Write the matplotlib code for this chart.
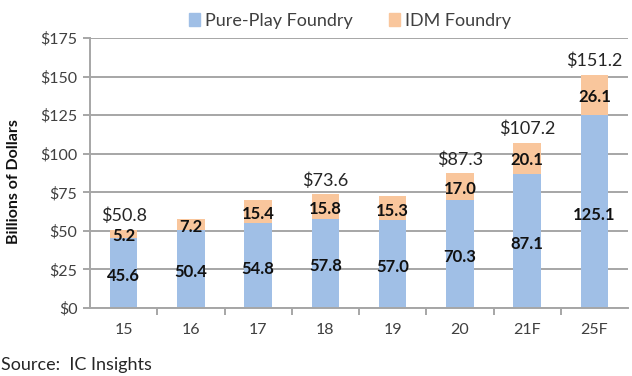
import numpy as np
import matplotlib.pyplot as plt
from matplotlib.patches import Patch

years = ["15", "16", "17", "18", "19", "20", "21F", "25F"]
pure_play = [45.6, 50.4, 54.8, 57.8, 57.0, 70.3, 87.1, 125.1]
idm = [5.2, 7.2, 15.4, 15.8, 15.3, 17.0, 20.1, 26.1]
totals = [50.8, None, None, 73.6, None, 87.3, 107.2, 151.2]

blue = "#a0bfe6"
orange = "#f9c69c"
grid_c = "#a6a6a6"
txt = "#404040"

plt.rcParams['font.family'] = ['Lato', 'DejaVu Sans']

fig = plt.figure(figsize=(6.32, 3.76), dpi=100)
ax = fig.add_axes([90/632, (376-308)/376, 538/632, 270/376])

x = np.arange(len(years))
w = 0.41
ax.bar(x, pure_play, w, color=blue, zorder=2)
ax.bar(x, idm, w, bottom=pure_play, color=orange, zorder=2)

for i in range(len(years)):
    ax.text(x[i], pure_play[i] / 2 - 2, f"{pure_play[i]:.1f}", ha="center", va="center",
            fontsize=12, fontweight="bold", color="#111111", zorder=3)
    ax.text(x[i], pure_play[i] + idm[i] / 2 - 1.5, f"{idm[i]:.1f}", ha="center", va="center",
            fontsize=12, fontweight="bold", color="#111111", zorder=3)
    if totals[i] is not None:
        ax.text(x[i], totals[i] + 3.5, f"${totals[i]:.1f}", ha="center", va="bottom",
                fontsize=13, color="#262626", zorder=3)

ax.set_xlim(-0.5, len(years) - 0.5)
ax.set_ylim(0, 175)
ax.set_yticks(np.arange(0, 176, 25))
ax.set_yticklabels([f"${v}" for v in range(0, 176, 25)])
ax.set_xticks(x)
ax.set_xticklabels(years)
ax.set_xticks(np.arange(0.5, len(years) - 0.5, 1), minor=True)

ax.yaxis.grid(True, color=grid_c, linewidth=1.4, zorder=0)
for s in ["top", "right"]:
    ax.spines[s].set_visible(False)
ax.spines["left"].set_color(grid_c)
ax.spines["bottom"].set_color(grid_c)
ax.spines["left"].set_linewidth(1.4)
ax.spines["bottom"].set_linewidth(1.4)

ax.tick_params(axis="y", colors=grid_c, labelcolor=txt, labelsize=11.5, length=5, width=1.4, pad=4)
ax.tick_params(axis="x", which="major", length=0, labelcolor=txt, labelsize=11.5, pad=11)
ax.tick_params(axis="x", which="minor", length=5, width=1.4, color=grid_c)

ax.set_ylabel("Billions of Dollars", fontsize=11.5, fontweight="bold", color="#111111")
ax.yaxis.set_label_coords(-0.128, 0.47)

handles = [Patch(color=blue, label="Pure-Play Foundry"), Patch(color=orange, label="IDM Foundry")]
fig.legend(handles=handles, loc="center", bbox_to_anchor=(350/632, 1 - 21/376), ncol=2,
           frameon=False, fontsize=13, handlelength=0.6, handleheight=0.7,
           handletextpad=0.3, columnspacing=2.0, labelcolor=txt)

fig.text(1/632, 1 - 365/376, "Source:  IC Insights", fontsize=13, color="#262626",
         ha="left", va="center")

fig.savefig("out.png", dpi=100)
